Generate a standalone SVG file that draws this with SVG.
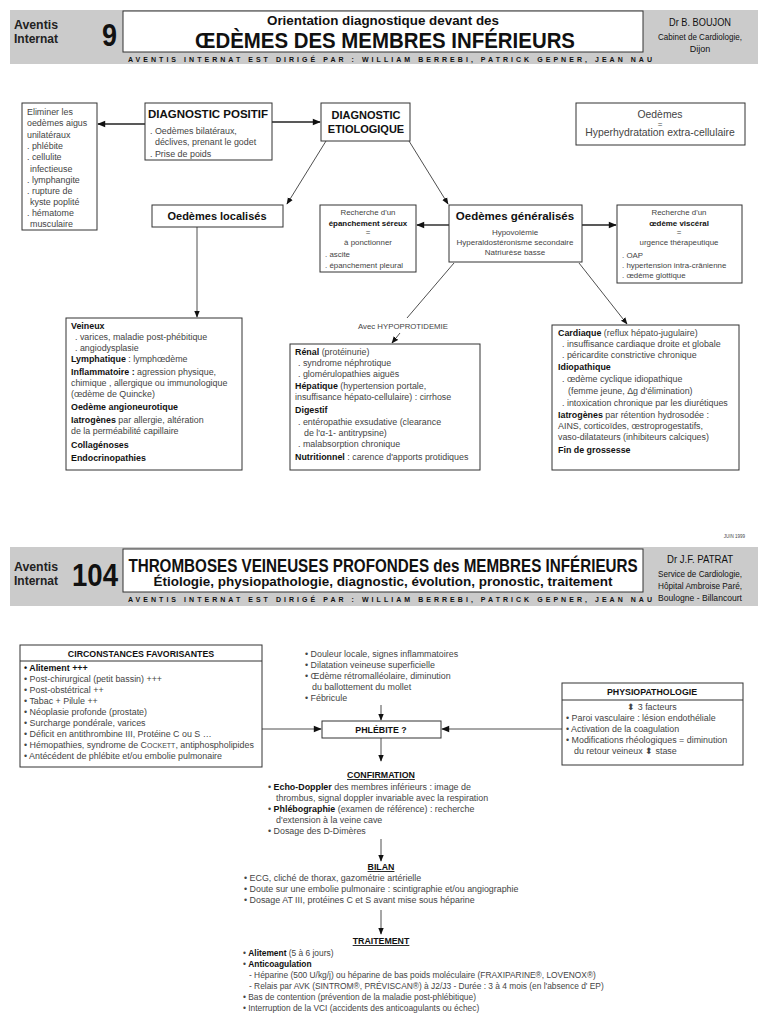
<svg xmlns="http://www.w3.org/2000/svg" width="768" height="1024" viewBox="0 0 768 1024">
<defs>
<style>
text{font-family:"Liberation Sans",Arial,sans-serif;}
.t{font-size:8.9px;fill:#444;}
.tr{font-size:8.4px;fill:#444;}
.b{font-weight:bold;fill:#111;}
.bx{fill:#fff;stroke:#333;stroke-width:1;}
.ln{stroke:#222;stroke-width:0.8;fill:none;}
.lt{stroke:#222;stroke-width:1.4;fill:none;}
.hd{fill:#cbcbcb;}
.c{text-anchor:middle;}
.u{text-decoration:underline;}
.sm{font-size:7.9px;fill:#444;}
</style>
<marker id="ah" viewBox="0 0 10 10" refX="9" refY="5" markerWidth="7" markerHeight="7" markerUnits="userSpaceOnUse" orient="auto"><path d="M0,1 L10,5 L0,9 z" fill="#111"/></marker>
<marker id="ah2" viewBox="0 0 10 10" refX="9" refY="5" markerWidth="9" markerHeight="8" markerUnits="userSpaceOnUse" orient="auto"><path d="M0,1 L10,5 L0,9 z" fill="#111"/></marker>
</defs>
<rect width="768" height="1024" fill="#fff"/>

<!-- Header 1 -->
<g id="header1">
<rect class="hd" x="10" y="10" width="748" height="54"/>
<rect x="123" y="11" width="520" height="41" fill="#fff" stroke="#333" stroke-width="1"/>
<text x="14" y="29" font-size="13" font-weight="bold" fill="#222" textLength="44" lengthAdjust="spacingAndGlyphs">Aventis</text>
<text x="14" y="43" font-size="13" font-weight="bold" fill="#222" textLength="44" lengthAdjust="spacingAndGlyphs">Internat</text>
<text x="117" y="46" font-size="31" font-weight="bold" fill="#111" text-anchor="end" textLength="15" lengthAdjust="spacingAndGlyphs">9</text>
<text x="383" y="25" font-size="12.5" font-weight="bold" fill="#111" class="c" textLength="232" lengthAdjust="spacingAndGlyphs">Orientation diagnostique devant des</text>
<text x="385" y="48" font-size="22.5" font-weight="bold" fill="#111" class="c" textLength="380" lengthAdjust="spacingAndGlyphs">ŒDÈMES DES MEMBRES INFÉRIEURS</text>
<text x="390" y="62" font-size="7" font-weight="bold" fill="#111" class="c" textLength="524" lengthAdjust="spacing">AVENTIS INTERNAT EST DIRIGÉ PAR : WILLIAM BERREBI,  PATRICK GEPNER,  JEAN NAU</text>
<text x="700" y="26" font-size="11.5" fill="#111" class="c" textLength="62" lengthAdjust="spacingAndGlyphs">Dr B. BOUJON</text>
<text x="700" y="40" font-size="9" fill="#111" class="c" textLength="84" lengthAdjust="spacingAndGlyphs">Cabinet de Cardiologie,</text>
<text x="700" y="52" font-size="9" fill="#111" class="c">Dijon</text>
</g>

<!-- Connectors top -->
<g id="connectors-top">
<line class="lt" x1="145" y1="124" x2="98" y2="124" marker-end="url(#ah2)"/>
<line class="lt" x1="272" y1="122" x2="320" y2="122" marker-end="url(#ah2)"/>
<line class="ln" x1="326" y1="141" x2="287" y2="204" marker-end="url(#ah)"/>
<line class="ln" x1="409" y1="141" x2="448" y2="204" marker-end="url(#ah)"/>
<line class="lt" x1="449" y1="225" x2="417" y2="225" marker-end="url(#ah2)"/>
<line class="lt" x1="582" y1="225" x2="616" y2="225" marker-end="url(#ah2)"/>
<line class="ln" x1="197" y1="227" x2="197" y2="317" marker-end="url(#ah)"/>
<line class="ln" x1="454" y1="263" x2="407" y2="318"/>
<line class="ln" x1="400" y1="333" x2="392" y2="343" marker-end="url(#ah)"/>
<line class="ln" x1="579" y1="263" x2="627" y2="324" marker-end="url(#ah)"/>
</g>

<g id="eliminer">
<rect class="bx" x="22" y="103" width="75" height="127"/>
<text class="t" x="27" y="115">Eliminer les</text>
<text class="t" x="27" y="126">oedèmes aigus</text>
<text class="t" x="27" y="138">unilatéraux</text>
<text class="t" x="27" y="149">. phlébite</text>
<text class="t" x="27" y="160">. cellulite</text>
<text class="t" x="30" y="172">infectieuse</text>
<text class="t" x="27" y="183">. lymphangite</text>
<text class="t" x="27" y="194">. rupture de</text>
<text class="t" x="30" y="205">kyste poplité</text>
<text class="t" x="27" y="216">. hématome</text>
<text class="t" x="30" y="227">musculaire</text>
</g>

<g id="diag-positif">
<rect class="bx" x="145" y="103" width="127" height="57"/>
<text x="208" y="118" font-size="11.5" class="b c">DIAGNOSTIC POSITIF</text>
<text class="t" x="150" y="134">. Oedèmes bilatéraux,</text>
<text class="t" x="155" y="145">déclives, prenant le godet</text>
<text class="t" x="150" y="157">. Prise de poids</text>
</g>

<g id="diag-etio">
<rect class="bx" x="321" y="103" width="89" height="38"/>
<text x="366" y="119" font-size="11" class="b c">DIAGNOSTIC</text>
<text x="366" y="133" font-size="11" class="b c">ETIOLOGIQUE</text>
</g>

<g id="oedemes-def">
<rect class="bx" x="576" y="103" width="169" height="42"/>
<text x="660" y="118" font-size="10.4" fill="#444" class="c">Oedèmes</text>
<text x="660" y="127" font-size="8" fill="#444" class="c">=</text>
<text x="660" y="136" font-size="10.4" fill="#444" class="c">Hyperhydratation extra-cellulaire</text>
</g>

<g id="localises">
<rect class="bx" x="152" y="205" width="131" height="22"/>
<text x="217" y="220" font-size="11" class="b c">Oedèmes localisés</text>
</g>

<g id="generalises">
<rect class="bx" x="449" y="205" width="133" height="57"/>
<text x="515" y="220" font-size="11.5" class="b c">Oedèmes généralisés</text>
<text x="515" y="235" font-size="8" fill="#444" class="c">Hypovolémie</text>
<text x="515" y="245" font-size="8" fill="#444" class="c">Hyperaldostéronisme secondaire</text>
<text x="515" y="255" font-size="8" fill="#444" class="c">Natriurèse basse</text>
</g>

<g id="epanchement">
<rect class="bx" x="320" y="205" width="96" height="67"/>
<text x="368" y="215" class="sm c">Recherche d'un</text>
<text x="368" y="226" font-size="7.9" class="b c">épanchement séreux</text>
<text x="368" y="235" class="sm c">=</text>
<text x="368" y="245" class="sm c">à ponctionner</text>
<text x="325" y="257" class="sm">. ascite</text>
<text x="325" y="268" class="sm">. épanchement pleural</text>
</g>

<g id="visceral">
<rect class="bx" x="617" y="205" width="125" height="78"/>
<text x="679" y="215" class="sm c">Recherche d'un</text>
<text x="679" y="226" font-size="7.9" class="b c">œdème viscéral</text>
<text x="679" y="235" class="sm c">=</text>
<text x="679" y="245" class="sm c">urgence thérapeutique</text>
<text x="622" y="258" class="sm">. OAP</text>
<text x="622" y="268" class="sm">. hypertension intra-crânienne</text>
<text x="622" y="278" class="sm">. œdème glottique</text>
</g>

<g id="veineux">
<rect class="bx" x="66" y="318" width="176" height="152"/>
<text class="t" x="71" y="329"><tspan class="b">Veineux</tspan></text>
<text class="t" x="75" y="340">. varices, maladie post-phébitique</text>
<text class="t" x="75" y="351">. angiodysplasie</text>
<text class="t" x="71" y="362"><tspan class="b">Lymphatique</tspan> : lymphœdème</text>
<text class="t" x="71" y="375"><tspan class="b">Inflammatoire :</tspan> agression physique,</text>
<text class="t" x="71" y="386">chimique , allergique ou immunologique</text>
<text class="t" x="71" y="397">(œdème de Quincke)</text>
<text class="t" x="71" y="410"><tspan class="b">Oedème angioneurotique</tspan></text>
<text class="t" x="71" y="423"><tspan class="b">Iatrogènes</tspan> par allergie, altération</text>
<text class="t" x="71" y="434">de la perméabilité capillaire</text>
<text class="t" x="71" y="448"><tspan class="b">Collagénoses</tspan></text>
<text class="t" x="71" y="461"><tspan class="b">Endocrinopathies</tspan></text>
</g>

<text x="403" y="329" font-size="7.8" fill="#444" class="c">Avec HYPOPROTIDEMIE</text>

<g id="renal">
<rect class="bx" x="290" y="344" width="190" height="126"/>
<text class="t" x="295" y="355"><tspan class="b">Rénal</tspan> (protéinurie)</text>
<text class="t" x="298" y="366">. syndrome néphrotique</text>
<text class="t" x="298" y="377">. glomérulopathies aiguës</text>
<text class="t" x="295" y="389"><tspan class="b">Hépatique</tspan> (hypertension portale,</text>
<text class="t" x="295" y="400">insuffisance hépato-cellulaire) : cirrhose</text>
<text class="t" x="295" y="413"><tspan class="b">Digestif</tspan></text>
<text class="t" x="298" y="425">. entéropathie exsudative (clearance</text>
<text class="t" x="304" y="436">de l'α-1- antitrypsine)</text>
<text class="t" x="298" y="447">. malabsorption chronique</text>
<text class="t" x="295" y="460"><tspan class="b">Nutritionnel</tspan> : carence d'apports protidiques</text>
</g>

<g id="cardiaque">
<rect class="bx" x="552" y="325" width="187" height="145"/>
<text class="t" x="558" y="336"><tspan class="b">Cardiaque</tspan> (reflux hépato-jugulaire)</text>
<text class="t" x="562" y="347">. insuffisance cardiaque droite et globale</text>
<text class="t" x="562" y="358">. péricardite constrictive chronique</text>
<text class="t" x="558" y="370"><tspan class="b">Idiopathique</tspan></text>
<text class="t" x="562" y="382">. œdème cyclique idiopathique</text>
<text class="t" x="568" y="394">(femme jeune, Δg d'élimination)</text>
<text class="t" x="562" y="406">. intoxication chronique par les diurétiques</text>
<text class="t" x="558" y="418"><tspan class="b">Iatrogènes</tspan> par rétention hydrosodée :</text>
<text class="t" x="558" y="429">AINS, corticoïdes, œstroprogestatifs,</text>
<text class="t" x="558" y="440">vaso-dilatateurs (inhibiteurs calciques)</text>
<text class="t" x="558" y="453"><tspan class="b">Fin de grossesse</tspan></text>
</g>

<text x="745" y="538" font-size="4.5" fill="#444" text-anchor="end">JUIN 1999</text>

<!-- Header 2 -->
<g id="header2">
<rect class="hd" x="10" y="547" width="748" height="59"/>
<rect x="123" y="549" width="520" height="43" fill="#fff" stroke="#333" stroke-width="1"/>
<text x="14" y="571" font-size="13" font-weight="bold" fill="#222" textLength="44" lengthAdjust="spacingAndGlyphs">Aventis</text>
<text x="14" y="585" font-size="13" font-weight="bold" fill="#222" textLength="44" lengthAdjust="spacingAndGlyphs">Internat</text>
<text x="118" y="586" font-size="31" font-weight="bold" fill="#111" text-anchor="end" textLength="46" lengthAdjust="spacingAndGlyphs">104</text>
<text transform="matrix(0.75 0 0 1 383 572)" x="0" y="0" font-size="19" font-weight="bold" fill="#111" class="c" textLength="679" lengthAdjust="spacingAndGlyphs">THROMBOSES VEINEUSES PROFONDES des MEMBRES INFÉRIEURS</text>
<text x="383" y="586" font-size="12" font-weight="bold" fill="#111" class="c" textLength="459" lengthAdjust="spacingAndGlyphs">Étiologie, physiopathologie, diagnostic, évolution, pronostic, traitement</text>
<text x="390" y="602" font-size="7" font-weight="bold" fill="#111" class="c" textLength="524" lengthAdjust="spacing">AVENTIS INTERNAT EST DIRIGÉ PAR : WILLIAM BERREBI,  PATRICK GEPNER,  JEAN NAU</text>
<text x="700" y="563" font-size="10.5" fill="#111" class="c" textLength="66" lengthAdjust="spacingAndGlyphs">Dr J.F. PATRAT</text>
<text x="700" y="577" font-size="8.5" fill="#111" class="c" textLength="84" lengthAdjust="spacingAndGlyphs">Service de Cardiologie,</text>
<text x="700" y="589" font-size="8.5" fill="#111" class="c" textLength="84" lengthAdjust="spacingAndGlyphs">Hôpital Ambroise Paré,</text>
<text x="700" y="601" font-size="8.5" fill="#111" class="c" textLength="84" lengthAdjust="spacingAndGlyphs">Boulogne - Billancourt</text>
</g>

<!-- Connectors bottom -->
<g id="connectors-bottom">
<line class="ln" x1="262" y1="729" x2="321" y2="729" marker-end="url(#ah2)"/>
<line class="ln" x1="562" y1="729" x2="442" y2="729" marker-end="url(#ah2)"/>
<line class="ln" x1="381" y1="705" x2="381" y2="720" marker-end="url(#ah)"/>
<line class="ln" x1="381" y1="738" x2="381" y2="761" marker-end="url(#ah)"/>
<line class="ln" x1="381" y1="839" x2="381" y2="861" marker-end="url(#ah)"/>
<line class="ln" x1="381" y1="910" x2="381" y2="934" marker-end="url(#ah)"/>
</g>

<g id="circonstances">
<rect class="bx" x="20" y="645" width="242" height="122"/>
<line x1="20" y1="661" x2="262" y2="661" stroke="#333" stroke-width="1"/>
<text x="141" y="657" font-size="8.8" class="b c">CIRCONSTANCES FAVORISANTES</text>
<text class="t" x="24" y="671"><tspan class="b">• Alitement +++</tspan></text>
<text class="t" x="24" y="682">• Post-chirurgical (petit bassin) +++</text>
<text class="t" x="24" y="693">• Post-obstétrical ++</text>
<text class="t" x="24" y="704">• Tabac + Pilule ++</text>
<text class="t" x="24" y="715">• Néoplasie profonde (prostate)</text>
<text class="t" x="24" y="726">• Surcharge pondérale, varices</text>
<text class="t" x="24" y="737">• Déficit en antithrombine III, Protéine C ou S …</text>
<text class="t" x="24" y="748">• Hémopathies, syndrome de C<tspan font-size="7">OCKETT</tspan>, antiphospholipides</text>
<text class="t" x="24" y="759">• Antécédent de phlébite et/ou embolie pulmonaire</text>
</g>

<g id="signes">
<text class="t" x="305" y="657">• Douleur locale, signes inflammatoires</text>
<text class="t" x="305" y="668">• Dilatation veineuse superficielle</text>
<text class="t" x="305" y="679">• Œdème rétromalléolaire, diminution</text>
<text class="t" x="312" y="690">du ballottement du mollet</text>
<text class="t" x="305" y="701">• Fébricule</text>
</g>

<g id="phlebite">
<rect class="bx" x="322" y="721" width="119" height="17"/>
<text x="381" y="733" font-size="8.8" class="b c">PHLÉBITE ?</text>
</g>

<g id="physio">
<rect class="bx" x="562" y="683" width="181" height="82"/>
<line x1="562" y1="700" x2="743" y2="700" stroke="#333" stroke-width="1"/>
<text x="652" y="695" font-size="8.8" class="b c">PHYSIOPATHOLOGIE</text>
<text class="t" x="652" y="710" text-anchor="middle">⬍ 3 facteurs</text>
<text class="t" x="566" y="721">• Paroi vasculaire : lésion endothéliale</text>
<text class="t" x="566" y="732">• Activation de la coagulation</text>
<text class="t" x="566" y="743">• Modifications rhéologiques = diminution</text>
<text class="t" x="574" y="754">du retour veineux  ⬍ stase</text>
</g>

<g id="confirmation">
<text x="381" y="778" font-size="8.8" class="b c u">CONFIRMATION</text>
<text class="t" x="268" y="790">• <tspan class="b">Echo-Doppler</tspan> des membres inférieurs : image de</text>
<text class="t" x="276" y="801">thrombus, signal doppler invariable avec la respiration</text>
<text class="t" x="268" y="812">• <tspan class="b">Phlébographie</tspan> (examen de référence) : recherche</text>
<text class="t" x="276" y="823">d'extension à la veine cave</text>
<text class="t" x="268" y="834">• Dosage des D-Dimères</text>
</g>

<g id="bilan">
<text x="381" y="870" font-size="8.8" class="b c u">BILAN</text>
<text class="t" x="244" y="881">• ECG, cliché de thorax, gazométrie artérielle</text>
<text class="t" x="244" y="892">• Doute sur une embolie pulmonaire : scintigraphie et/ou angiographie</text>
<text class="t" x="244" y="903">• Dosage AT III, protéines C et S avant mise sous héparine</text>
</g>

<g id="traitement">
<text x="381" y="944" font-size="8.8" class="b c u">TRAITEMENT</text>
<text class="tr" x="243" y="956">• <tspan class="b">Alitement</tspan> (5 à 6 jours)</text>
<text class="tr" x="243" y="967">• <tspan class="b">Anticoagulation</tspan></text>
<text class="tr" x="249" y="978">- Héparine (500 U/kg/j) ou héparine de bas poids moléculaire (FRAXIPARINE®, LOVENOX®)</text>
<text class="tr" x="249" y="989">- Relais par AVK (SINTROM®, PRÉVISCAN®) à J2/J3 - Durée : 3 à 4 mois (en l'absence d' EP)</text>
<text class="tr" x="243" y="1000">• Bas de contention (prévention de la maladie post-phlébitique)</text>
<text class="tr" x="243" y="1011">• Interruption de la VCI (accidents des anticoagulants ou échec)</text>
</g>
</svg>
